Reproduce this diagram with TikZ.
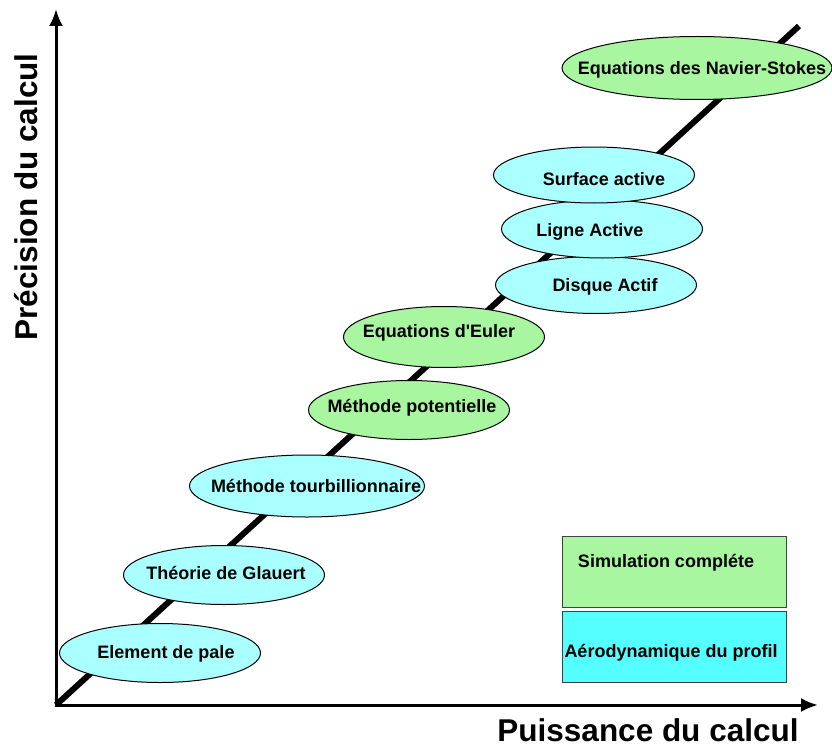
\documentclass[tikz,border=0pt]{standalone}
\usepackage{fontspec}
\setmainfont{Liberation Sans}
\usetikzlibrary{shapes.geometric,arrows.meta}

\definecolor{vert}{RGB}{168,246,160}
\definecolor{cyanclair}{RGB}{170,255,255}
\definecolor{cyanfonce}{RGB}{85,255,255}

\begin{document}
\begin{tikzpicture}[x=1pt,y=-1pt,>={Latex[length=17pt,width=14pt]},
		methode/.style={ellipse,draw,line width=1pt,inner sep=0pt,minimum width=201pt,minimum height=59pt},
		fluide/.style={methode,fill=vert},
		pale/.style={methode,fill=cyanclair},
		txt/.style={font=\fontsize{18}{21}\selectfont\bfseries},
		legende/.style={rectangle,draw=black!75,line width=1pt,minimum width=224pt,minimum height=71pt},
		axe/.style={font=\fontsize{31.5}{36}\selectfont\bfseries}]
		\useasboundingbox (0,0) rectangle (832,749);
		
		\coordinate (O) at (56,705);
		\coordinate (X) at (818,705);
		\coordinate (Y) at (56,9);
		\coordinate (H) at (799,26);
		
		\draw[line width=6pt] (O) -- (H);
		\draw[<->,line width=3pt] (Y) -- (O) -- (X);
		
		\node[pale]                                   (E_1) at (160,653) {};
		\node[pale]                                   (E_2) at (224,575) {};
		\node[pale,minimum width=235pt,minimum height=62pt] (E_3) at (307,486) {};
		\node[fluide]                                 (E_4) at (409,410) {};
		\node[fluide,minimum height=61pt]             (E_5) at (444,337) {};
		\node[pale,minimum height=57pt]               (E_6) at (596,285) {};
		\node[pale,minimum height=58pt]               (E_7) at (602,229) {};
		\node[pale,minimum height=56pt]               (E_8) at (594,175) {};
		\node[fluide,minimum width=270pt,minimum height=63pt] (E_9) at (697,68) {};
		
		\node[txt] (T_1) at (166,654) {Element de pale};
		\node[txt] (T_2) at (226,573) {Théorie de Glauert};
		\node[txt] (T_3) at (316,486) {Méthode tourbillionnaire};
		\node[txt] (T_4) at (412,408) {Méthode potentielle};
		\node[txt] (T_5) at (439,333) {Equations d\textquotesingle Euler};
		\node[txt] (T_6) at (605,287) {Disque Actif};
		\node[txt] (T_7) at (590,232) {Ligne Active};
		\node[txt] (T_8) at (604,179) {Surface active};
		\node[txt] (T_9) at (702,70) {Equations des Navier-Stokes};
		
		\node[legende,fill=vert]      (L_1) at (674,571.5) {};
		\node[legende,fill=cyanfonce] (L_2) at (674,646.5) {};
		\node[txt] (S_1) at (666,563) {Simulation compléte};
		\node[txt] (S_2) at (671,653) {Aérodynamique du profil};
		
		\node[axe,anchor=base] (A_x) at (648,741) {Puissance du calcul};
		\node[axe,anchor=base,rotate=90] (A_y) at (37,197) {Précision du calcul};
	\end{tikzpicture}
\end{document}
